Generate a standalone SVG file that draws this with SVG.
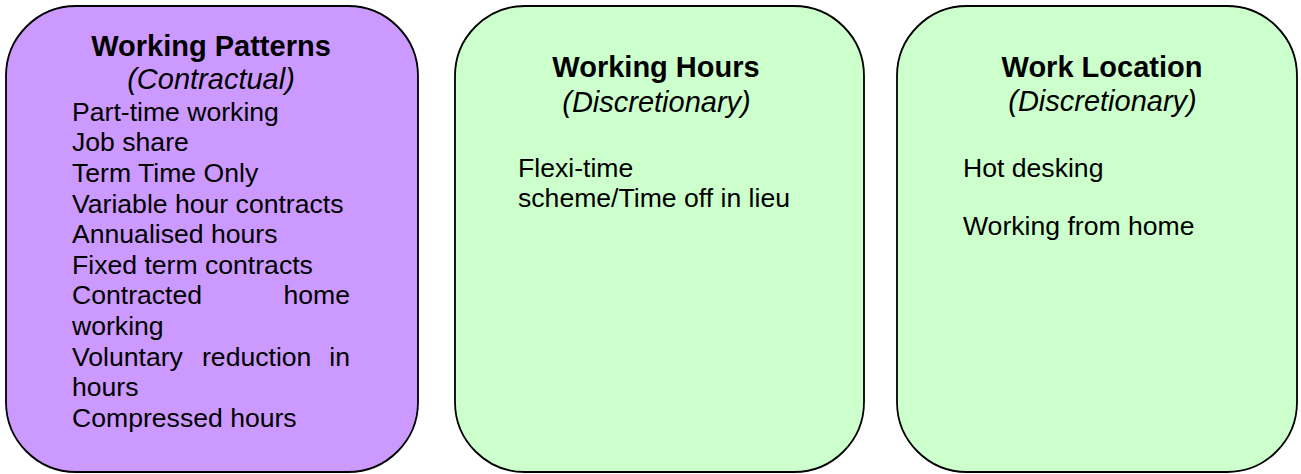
<svg xmlns="http://www.w3.org/2000/svg" width="1301" height="474" viewBox="0 0 1301 474">
  <style>
    .box { stroke: #000; stroke-width: 1.8; }
    .purple { fill: #CC99FF; }
    .green { fill: #CCFFCC; }
    text { font-family: "Liberation Sans", Arial, sans-serif; fill: #000; }
    .title { font-size: 29px; font-weight: bold; text-anchor: middle; }
    .sub { font-size: 29px; font-style: italic; text-anchor: middle; }
    .body { font-size: 26.6px; }
    .end { text-anchor: end; }
  </style>

  <!-- Contractual working patterns -->
  <g id="working-patterns">
    <rect class="box purple" x="6" y="6" width="412" height="466" rx="70" ry="70"/>
    <text class="title" x="211" y="56">Working Patterns</text>
    <text class="sub" x="211" y="89.3">(Contractual)</text>
    <text class="body" x="72" y="120.7">Part-time working</text>
    <text class="body" x="72" y="151.3">Job share</text>
    <text class="body" x="72" y="181.9">Term Time Only</text>
    <text class="body" x="72" y="212.5">Variable hour contracts</text>
    <text class="body" x="72" y="243.1">Annualised hours</text>
    <text class="body" x="72" y="273.7">Fixed term contracts</text>
    <text class="body" x="72" y="304.3">Contracted</text>
    <text class="body end" x="350" y="304.3">home</text>
    <text class="body" x="72" y="334.9">working</text>
    <text class="body" x="72" y="365.7">Voluntary</text>
    <text class="body" x="202" y="365.7">reduction</text>
    <text class="body end" x="350" y="365.7">in</text>
    <text class="body" x="72" y="396.1">hours</text>
    <text class="body" x="72" y="427">Compressed hours</text>
  </g>

  <!-- Discretionary working hours -->
  <g id="working-hours">
    <rect class="box green" x="455" y="6" width="409" height="466" rx="70" ry="70"/>
    <text class="title" x="656" y="77.3">Working Hours</text>
    <text class="sub" x="656.5" y="111.5">(Discretionary)</text>
    <text class="body" x="518" y="176.7">Flexi-time</text>
    <text class="body" x="518" y="206.7">scheme/Time off in lieu</text>
  </g>

  <!-- Discretionary work location -->
  <g id="work-location">
    <rect class="box green" x="897" y="6" width="400" height="466" rx="70" ry="70"/>
    <text class="title" x="1102" y="77.3">Work Location</text>
    <text class="sub" x="1102.5" y="111">(Discretionary)</text>
    <text class="body" x="963" y="176.7">Hot desking</text>
    <text class="body" x="963" y="235">Working from home</text>
  </g>

  <g id="connectors"></g>
</svg>
